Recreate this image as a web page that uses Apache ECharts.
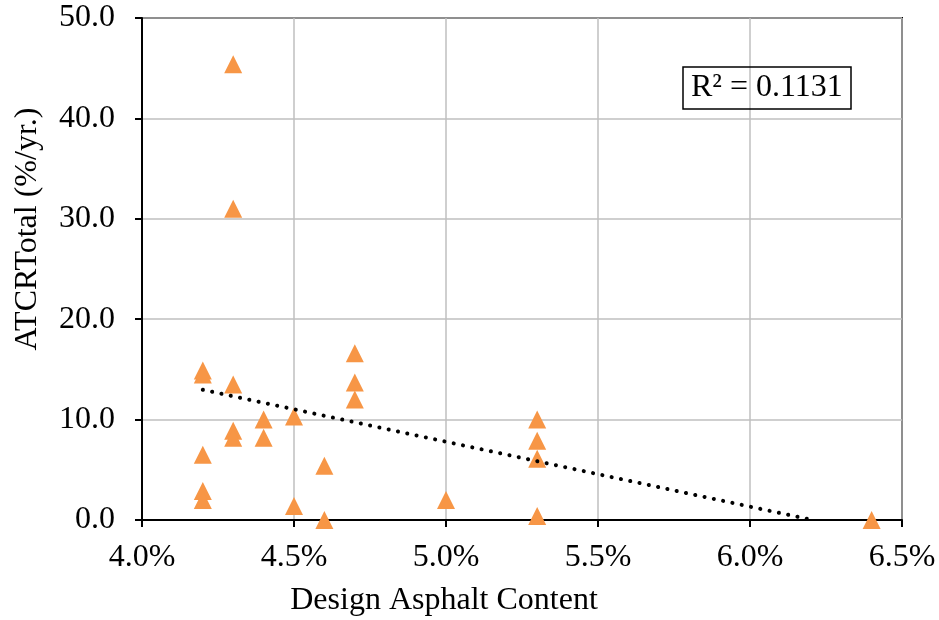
<!DOCTYPE html>
<html>
<head>
<meta charset="utf-8">
<script src="https://cdn.jsdelivr.net/npm/echarts@6/dist/echarts.min.js"></script>
<style>
  html, body { margin: 0; padding: 0; background: #fff; }
  #chart { width: 939px; height: 620px; }
</style>
</head>
<body>
<div id="chart"></div>
<script>
// 数据：设计沥青含量(%) 与 ATCRTotal (%/yr.)
var asphaltContent = [4.2, 4.2, 4.2, 4.2, 4.2,
                      4.3, 4.3, 4.3, 4.3, 4.3,
                      4.4, 4.4,
                      4.5, 4.5,
                      4.6, 4.6,
                      4.7, 4.7, 4.7,
                      5.0,
                      5.3, 5.3, 5.3, 5.3,
                      6.4];
var atcrTotal = [14.9, 14.5, 6.5, 2.9, 2.0,
                 45.4, 31.0, 13.5, 8.9, 8.2,
                 10.0, 8.2,
                 10.3, 1.4,
                 5.4, 0.0,
                 16.6, 13.7, 12.0,
                 2.0,
                 10.0, 7.9, 6.1, 0.4,
                 0.0];
var xTicks = [4.0, 4.5, 5.0, 5.5, 6.0, 6.5];
var yTicks = [0, 10, 20, 30, 40, 50];
var r2Label = 'R² = 0.1131';

var font = '"Liberation Serif", "Times New Roman", serif';

// 散点数据
var points = asphaltContent.map(function (x, i) { return [x, atcrTotal[i]]; });

// 线性趋势线（最小二乘），在 y=0 处截断
var n = points.length, mx = 0, my = 0;
points.forEach(function (p) { mx += p[0]; my += p[1]; });
mx /= n; my /= n;
var sxy = 0, sxx = 0;
points.forEach(function (p) { sxy += (p[0] - mx) * (p[1] - my); sxx += (p[0] - mx) * (p[0] - mx); });
var slope = sxy / sxx, icpt = my - slope * mx;
var xMin = Math.min.apply(null, asphaltContent), xMax = Math.max.apply(null, asphaltContent);
var xEnd = Math.min(xMax, -icpt / slope);
var trend = [[xMin, icpt + slope * xMin], [xEnd, Math.max(0, icpt + slope * xEnd)]];

var myChart = echarts.init(document.getElementById('chart'));

var option = {
    backgroundColor: '#fff',
    animation: false,
    grid: {
        left: 142, right: 37, top: 18, bottom: 100,
        show: true, borderColor: '#000', borderWidth: 2
    },
    title: {
        text: r2Label,
        left: 683, top: 67,
        padding: [5, 8, 5, 8],
        borderColor: '#000', borderWidth: 1.5,
        textStyle: { fontFamily: font, fontSize: 32, fontWeight: 'normal', color: '#000' }
    },
    graphic: [
        {
            type: 'text', x: 444, y: 601,
            style: { text: 'Design Asphalt Content', fontFamily: font, fontSize: 32,
                     fill: '#000', align: 'center', verticalAlign: 'middle' }
        },
        {
            type: 'text', x: 28, y: 229, rotation: Math.PI / 2,
            style: { text: 'ATCRTotal (%/yr.)', fontFamily: font, fontSize: 32,
                     fill: '#000', align: 'center', verticalAlign: 'middle' }
        }
    ],
    xAxis: {
        type: 'value',
        min: xTicks[0], max: xTicks[xTicks.length - 1], interval: 0.5,
        axisLine: { onZero: false, lineStyle: { color: '#000', width: 2 } },
        axisTick: { show: true, inside: false, length: 7, lineStyle: { color: '#000', width: 2 } },
        axisLabel: {
            margin: 22, fontFamily: font, fontSize: 32, color: '#000',
            formatter: function (v) { return v.toFixed(1) + '%'; }
        },
        splitLine: { show: true, lineStyle: { color: '#BFBFBF', width: 1.5 } }
    },
    yAxis: {
        type: 'value',
        min: yTicks[0], max: yTicks[yTicks.length - 1], interval: 10,
        axisLine: { show: true, lineStyle: { color: '#000', width: 2 } },
        axisTick: { show: true, inside: false, length: 7, lineStyle: { color: '#000', width: 2 } },
        axisLabel: {
            margin: 27, fontFamily: font, fontSize: 32, color: '#000',
            formatter: function (v) { return v.toFixed(1); }
        },
        splitLine: { show: true, lineStyle: { color: '#BFBFBF', width: 1.5 } }
    },
    series: [
        {
            name: 'trend',
            type: 'line',
            data: trend,
            symbol: 'none',
            clip: true,
            z: 3,
            lineStyle: { color: '#000', width: 4, type: [0.1, 9.4], cap: 'round' }
        },
        {
            name: 'ATCRTotal',
            type: 'scatter',
            data: points,
            symbol: 'triangle',
            symbolSize: [18, 18],
            z: 2,
            itemStyle: { color: '#F79646', opacity: 1 }
        }
    ]
};

myChart.setOption(option);
</script>
</body>
</html>
